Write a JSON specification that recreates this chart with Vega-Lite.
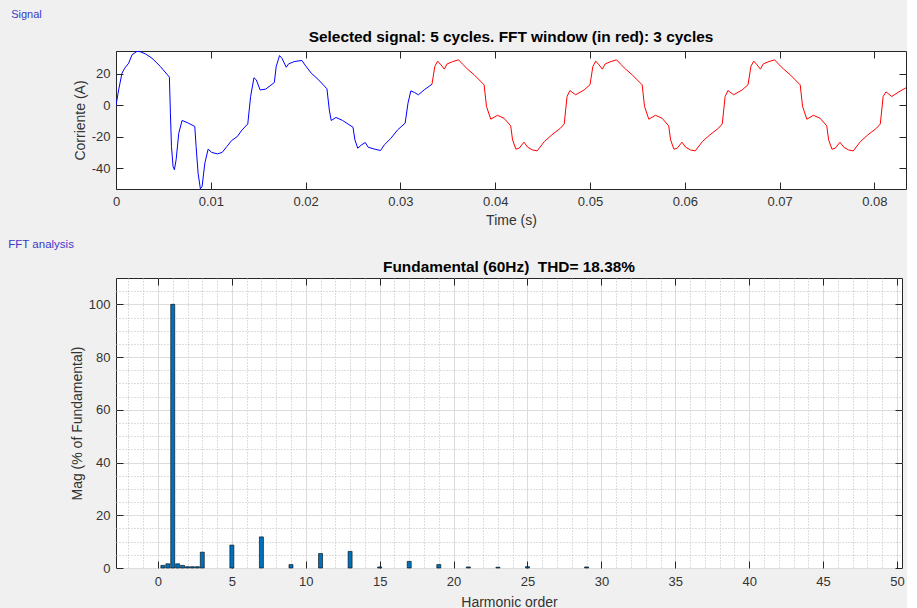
{
  "$schema": "https://vega.github.io/schema/vega-lite/v6.json",
  "background": "#F0F0F0",
  "padding": {"left": 8, "top": 8, "right": 0, "bottom": 0},
  "spacing": 11,
  "config": {
    "font": "Liberation Sans",
    "view": {"fill": "white", "stroke": "#262626", "strokeWidth": 1},
    "axis": {
      "labelFont": "Liberation Sans", "labelFontSize": 13, "labelColor": "#333333",
      "titleFont": "Liberation Sans", "titleFontSize": 14, "titleFontWeight": "normal", "titleColor": "#333333",
      "domain": false, "tickColor": "#262626", "tickSize": -7, "tickWidth": 1,
      "labelPadding": 13, "labelFlush": false, "labelOverlap": false, "titlePadding": 4
    },
    "title": {"font": "Liberation Sans", "fontSize": 15.4, "fontWeight": "bold", "color": "#000000"}
  },
  "datasets": {
    "signal_pre": [
      {"t": 0, "i": 0}, {"t": 0.00028, "i": 9.7}, {"t": 0.00063, "i": 20.3}, {"t": 0.00092, "i": 23.5},
      {"t": 0.00134, "i": 26.7}, {"t": 0.00169, "i": 32}, {"t": 0.00222, "i": 34.2}, {"t": 0.00257, "i": 33.9},
      {"t": 0.0031, "i": 32.6}, {"t": 0.0038, "i": 29.8}, {"t": 0.00468, "i": 24.6}, {"t": 0.00563, "i": 17.8},
      {"t": 0.00574, "i": -5.1}, {"t": 0.00585, "i": -26.2}, {"t": 0.00602, "i": -38.9}, {"t": 0.00616, "i": -41},
      {"t": 0.00634, "i": -34.7}, {"t": 0.00662, "i": -17.8}, {"t": 0.00697, "i": -9.7}, {"t": 0.0075, "i": -11},
      {"t": 0.00831, "i": -13.5}, {"t": 0.00845, "i": -26.2}, {"t": 0.00866, "i": -43.2}, {"t": 0.0089, "i": -53.1},
      {"t": 0.00908, "i": -51.6}, {"t": 0.00937, "i": -36.8}, {"t": 0.00972, "i": -27.9}, {"t": 0.0101, "i": -30},
      {"t": 0.0107, "i": -30.9}, {"t": 0.0112, "i": -30}, {"t": 0.0117, "i": -26.2}, {"t": 0.0122, "i": -22.4},
      {"t": 0.0128, "i": -19.9}, {"t": 0.0133, "i": -15.7}, {"t": 0.0139, "i": -11.9}, {"t": 0.0142, "i": 5.5},
      {"t": 0.01455, "i": 17.4}, {"t": 0.0148, "i": 16.1}, {"t": 0.0152, "i": 9.7}, {"t": 0.0158, "i": 10.2},
      {"t": 0.0167, "i": 14.4}, {"t": 0.0169, "i": 24.6}, {"t": 0.01725, "i": 31.5}, {"t": 0.0175, "i": 29.8},
      {"t": 0.01796, "i": 24.1}, {"t": 0.0182, "i": 26.2}, {"t": 0.0188, "i": 27.7}, {"t": 0.0196, "i": 28.4},
      {"t": 0.02, "i": 25}, {"t": 0.0206, "i": 20.3}, {"t": 0.0213, "i": 16.5}, {"t": 0.02225, "i": 10.4},
      {"t": 0.0225, "i": -3}, {"t": 0.0227, "i": -9.7}, {"t": 0.0232, "i": -7.8}, {"t": 0.0239, "i": -9.7},
      {"t": 0.025, "i": -14}, {"t": 0.0252, "i": -22}, {"t": 0.0255, "i": -27.3}, {"t": 0.0259, "i": -25.2},
      {"t": 0.0263, "i": -23.7}, {"t": 0.0266, "i": -26.7}, {"t": 0.0273, "i": -27.9}, {"t": 0.0279, "i": -28.8},
      {"t": 0.0283, "i": -25.2}, {"t": 0.029, "i": -21}, {"t": 0.0297, "i": -15.7}, {"t": 0.0305, "i": -11.4},
      {"t": 0.0308, "i": 1.3}, {"t": 0.0311, "i": 9.1}, {"t": 0.0315, "i": 8}, {"t": 0.0319, "i": 6.6},
      {"t": 0.0325, "i": 9.7}, {"t": 0.03333, "i": 13.3}
    ],
    "signal_fft": [
      {"t": 0.03333, "i": 13.3}, {"t": 0.03363, "i": 24.6}, {"t": 0.03393, "i": 28}, {"t": 0.03428, "i": 25.6},
      {"t": 0.03463, "i": 22.9}, {"t": 0.03493, "i": 26.2}, {"t": 0.03553, "i": 27.7}, {"t": 0.03613, "i": 28.8},
      {"t": 0.03653, "i": 26.2}, {"t": 0.03708, "i": 22.9}, {"t": 0.03778, "i": 19.3}, {"t": 0.03883, "i": 12.9},
      {"t": 0.03908, "i": -0.8}, {"t": 0.03953, "i": -8.9}, {"t": 0.04023, "i": -6.4}, {"t": 0.04093, "i": -8.3},
      {"t": 0.04163, "i": -13.1}, {"t": 0.04183, "i": -22}, {"t": 0.04218, "i": -27.9}, {"t": 0.04253, "i": -27.3},
      {"t": 0.04303, "i": -23.5}, {"t": 0.04343, "i": -26.7}, {"t": 0.04393, "i": -28.4}, {"t": 0.04443, "i": -29},
      {"t": 0.04518, "i": -23.1}, {"t": 0.04598, "i": -18.8}, {"t": 0.04688, "i": -14.6}, {"t": 0.04728, "i": -11.9},
      {"t": 0.04758, "i": 5.5}, {"t": 0.04788, "i": 9.3}, {"t": 0.04848, "i": 6.6}, {"t": 0.04938, "i": 9.7},
      {"t": 0.05, "i": 13}, {"t": 0.0503, "i": 24.6}, {"t": 0.0506, "i": 28}, {"t": 0.05095, "i": 25.6},
      {"t": 0.0513, "i": 22.9}, {"t": 0.0516, "i": 26.2}, {"t": 0.0522, "i": 27.7}, {"t": 0.0528, "i": 28.8},
      {"t": 0.0532, "i": 26.2}, {"t": 0.05375, "i": 22.9}, {"t": 0.05445, "i": 19.3}, {"t": 0.0555, "i": 12.9},
      {"t": 0.05575, "i": -0.8}, {"t": 0.0562, "i": -8.9}, {"t": 0.0569, "i": -6.4}, {"t": 0.0576, "i": -8.3},
      {"t": 0.0583, "i": -13.1}, {"t": 0.0585, "i": -22}, {"t": 0.05885, "i": -27.9}, {"t": 0.0592, "i": -27.3},
      {"t": 0.0597, "i": -23.5}, {"t": 0.0601, "i": -26.7}, {"t": 0.0606, "i": -28.4}, {"t": 0.0611, "i": -29},
      {"t": 0.06185, "i": -23.1}, {"t": 0.06265, "i": -18.8}, {"t": 0.06355, "i": -14.6}, {"t": 0.06395, "i": -11.9},
      {"t": 0.06425, "i": 5.5}, {"t": 0.06455, "i": 9.3}, {"t": 0.06515, "i": 6.6}, {"t": 0.06605, "i": 9.7},
      {"t": 0.06667, "i": 13}, {"t": 0.06697, "i": 24.6}, {"t": 0.06727, "i": 28}, {"t": 0.06762, "i": 25.6},
      {"t": 0.06797, "i": 22.9}, {"t": 0.06827, "i": 26.2}, {"t": 0.06887, "i": 27.7}, {"t": 0.06947, "i": 28.8},
      {"t": 0.06987, "i": 26.2}, {"t": 0.07042, "i": 22.9}, {"t": 0.07112, "i": 19.3}, {"t": 0.07217, "i": 12.9},
      {"t": 0.07242, "i": -0.8}, {"t": 0.07287, "i": -8.9}, {"t": 0.07357, "i": -6.4}, {"t": 0.07427, "i": -8.3},
      {"t": 0.07497, "i": -13.1}, {"t": 0.07517, "i": -22}, {"t": 0.07552, "i": -27.9}, {"t": 0.07587, "i": -27.3},
      {"t": 0.07637, "i": -23.5}, {"t": 0.07677, "i": -26.7}, {"t": 0.07727, "i": -28.4}, {"t": 0.07777, "i": -29},
      {"t": 0.07852, "i": -23.1}, {"t": 0.07932, "i": -18.8}, {"t": 0.08022, "i": -14.6}, {"t": 0.08062, "i": -11.9},
      {"t": 0.08092, "i": 5.5}, {"t": 0.08122, "i": 8.5}, {"t": 0.08182, "i": 5.5}, {"t": 0.08272, "i": 9},
      {"t": 0.08333, "i": 11}
    ],
    "fft_int": [
      {"h": 1, "mag": 100}, {"h": 2, "mag": 0.5}, {"h": 3, "mag": 6.0}, {"h": 5, "mag": 8.7},
      {"h": 7, "mag": 11.8}, {"h": 9, "mag": 1.3}, {"h": 11, "mag": 5.5}, {"h": 13, "mag": 6.3},
      {"h": 15, "mag": 0.4}, {"h": 17, "mag": 2.5}, {"h": 19, "mag": 1.3}, {"h": 21, "mag": 0.4},
      {"h": 23, "mag": 0.3}, {"h": 25, "mag": 0.5}, {"h": 29, "mag": 0.4}
    ],
    "fft_frac": [
      {"h": 0.333, "mag": 1.0}, {"h": 0.667, "mag": 1.6}, {"h": 1.333, "mag": 1.6},
      {"h": 1.667, "mag": 1.0}, {"h": 2.333, "mag": 0.5}, {"h": 2.667, "mag": 0.5}
    ]
  },
  "vconcat": [
    {
      "title": {"text": "Signal", "anchor": "start", "fontSize": 11, "fontWeight": "normal", "color": "#3A3AC8", "offset": 10, "dx": -61.5},
      "vconcat": [
        {
          "width": 790,
          "height": 138,
          "title": {"text": "Selected signal: 5 cycles. FFT window (in red): 3 cycles", "frame": "group", "anchor": "middle", "offset": 5},
          "layer": [
            {
              "data": {"name": "signal_pre"},
              "mark": {"type": "line", "color": "#0000FF", "strokeWidth": 1, "clip": true},
              "encoding": {
                "x": {"field": "t", "type": "quantitative", "scale": {"domain": [0, 0.08333], "nice": false, "zero": false},
                  "axis": {"orient": "bottom", "title": "Time (s)", "values": [0, 0.01, 0.02, 0.03, 0.04, 0.05, 0.06, 0.07, 0.08], "labelExpr": "'' + datum.value", "grid": false, "labelPadding": 13, "titlePadding": 5}},
                "y": {"field": "i", "type": "quantitative", "scale": {"domain": [-53.2, 34.4], "nice": false, "zero": false},
                  "axis": {"orient": "left", "title": "Corriente (A)", "values": [-40, -20, 0, 20], "labelExpr": "'' + datum.value", "grid": false}}
              }
            },
            {
              "data": {"name": "signal_fft"},
              "mark": {"type": "line", "color": "#FF0000", "strokeWidth": 1, "clip": true},
              "encoding": {
                "x": {"field": "t", "type": "quantitative",
                  "axis": {"orient": "top", "title": null, "labels": false, "grid": false, "values": [0, 0.01, 0.02, 0.03, 0.04, 0.05, 0.06, 0.07, 0.08]}},
                "y": {"field": "i", "type": "quantitative",
                  "axis": {"orient": "right", "title": null, "labels": false, "grid": false, "values": [-40, -20, 0, 20]}}
              }
            }
          ],
          "resolve": {"axis": {"x": "independent", "y": "independent"}}
        }
      ]
    },
    {
      "title": {"text": "FFT analysis", "anchor": "start", "fontSize": 11.5, "fontWeight": "normal", "color": "#3A3AC8", "offset": 9, "dx": -61.5},
      "vconcat": [
        {
          "width": 786,
          "height": 290,
          "title": {"text": "Fundamental (60Hz)\u00a0 THD= 18.38%", "frame": "group", "anchor": "middle", "offset": 2},
          "layer": [
            {
              "data": {"name": "fft_int"},
              "mark": {"type": "bar", "orient": "vertical", "size": 4, "fill": "#0072BD", "stroke": "#000000", "strokeWidth": 0.6},
              "encoding": {
                "x": {"field": "h", "type": "quantitative", "scale": {"domain": [-2.5, 50], "nice": false, "zero": false},
                  "axis": {"orient": "bottom", "title": "Harmonic order", "labelPadding": 14, "titlePadding": 7,
                    "values": [-2, -1, 0, 1, 2, 3, 4, 5, 6, 7, 8, 9, 10, 11, 12, 13, 14, 15, 16, 17, 18, 19, 20, 21, 22, 23, 24, 25, 26, 27, 28, 29, 30, 31, 32, 33, 34, 35, 36, 37, 38, 39, 40, 41, 42, 43, 44, 45, 46, 47, 48, 49, 50],
                    "labelExpr": "(datum.value >= 0 && datum.value % 5 === 0) ? ('' + datum.value) : ''",
                    "grid": true,
                    "gridColor": {"condition": {"test": "datum.value % 5 === 0", "value": "#DCDCDC"}, "value": "#BDBDBD"},
                    "gridDash": {"condition": {"test": "datum.value % 5 === 0", "value": []}, "value": [1, 2]},
                    "tickOpacity": {"condition": {"test": "datum.value % 5 === 0", "value": 1}, "value": 0}}},
                "y": {"field": "mag", "type": "quantitative", "scale": {"domain": [0, 110], "nice": false},
                  "axis": {"orient": "left", "title": "Mag (% of Fundamental)",
                    "values": [0, 5, 10, 15, 20, 25, 30, 35, 40, 45, 50, 55, 60, 65, 70, 75, 80, 85, 90, 95, 100, 105],
                    "labelExpr": "(datum.value % 20 === 0) ? ('' + datum.value) : ''",
                    "grid": true,
                    "gridColor": {"condition": {"test": "datum.value % 20 === 0", "value": "#DCDCDC"}, "value": "#BDBDBD"},
                    "gridDash": {"condition": {"test": "datum.value % 20 === 0", "value": []}, "value": [1, 2]},
                    "tickOpacity": {"condition": {"test": "datum.value % 20 === 0", "value": 1}, "value": 0}}}
              }
            },
            {
              "data": {"name": "fft_frac"},
              "mark": {"type": "bar", "orient": "vertical", "size": 4, "fill": "#0072BD", "stroke": "#000000", "strokeWidth": 0.6},
              "encoding": {
                "x": {"field": "h", "type": "quantitative",
                  "axis": {"orient": "top", "title": null, "labels": false, "grid": false, "values": [0, 5, 10, 15, 20, 25, 30, 35, 40, 45, 50]}},
                "y": {"field": "mag", "type": "quantitative",
                  "axis": {"orient": "right", "title": null, "labels": false, "grid": false, "values": [0, 20, 40, 60, 80, 100]}}
              }
            }
          ],
          "resolve": {"axis": {"x": "independent", "y": "independent"}}
        }
      ]
    }
  ]
}
